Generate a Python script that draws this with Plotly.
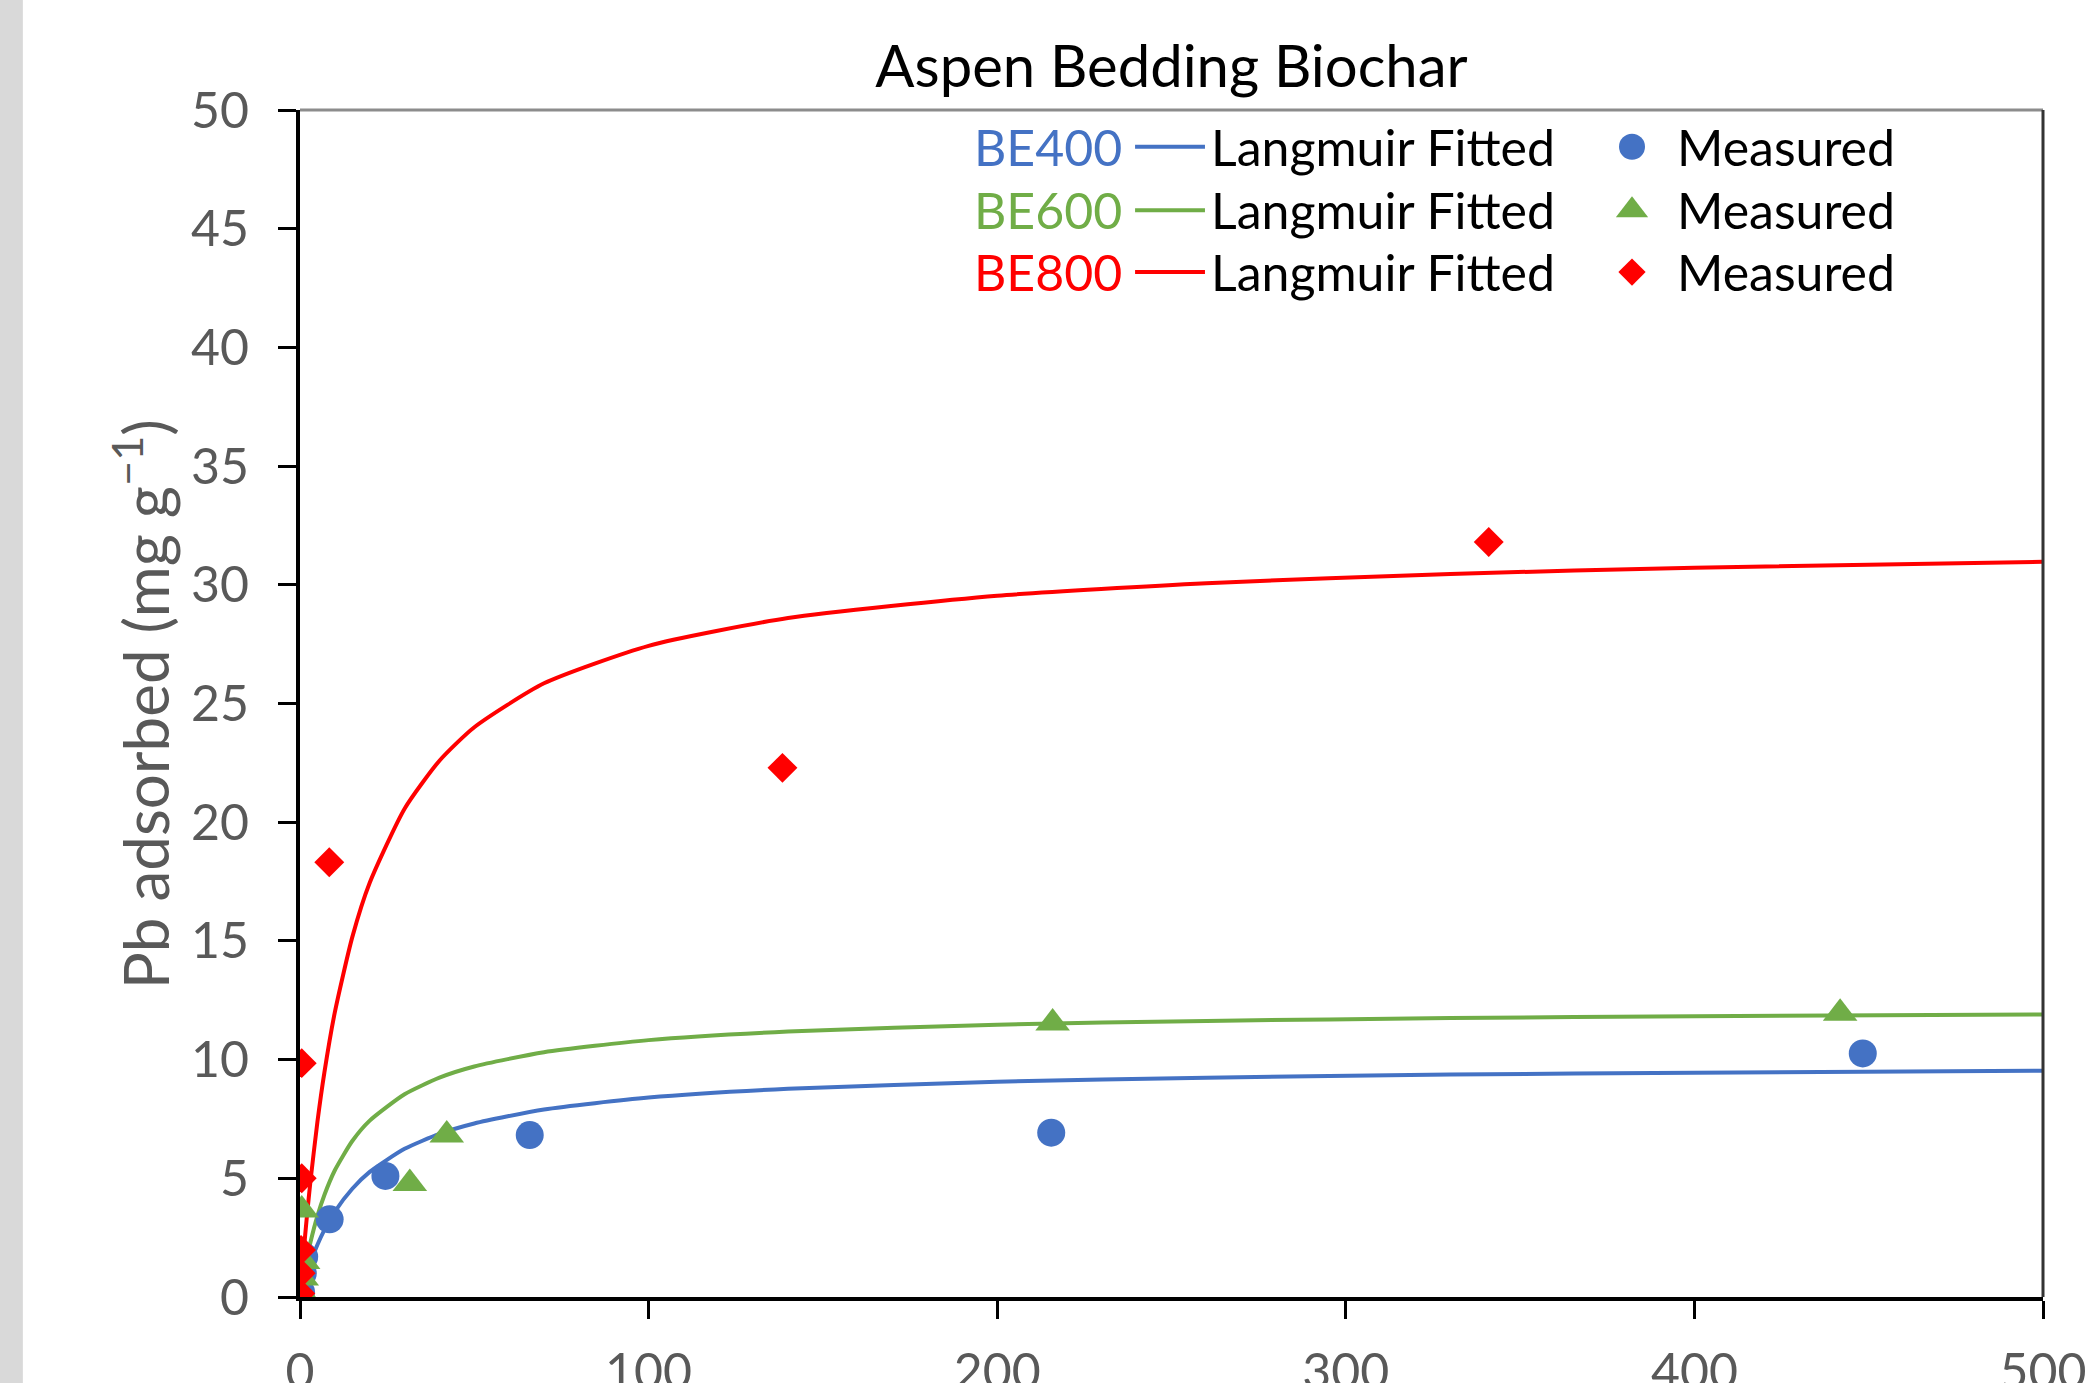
import plotly.graph_objects as go

# ---------------- data ----------------
fit_x = [0, 1, 2, 3, 5, 7, 10, 15, 20, 30, 40, 50, 70, 100, 140, 200, 260, 330, 400, 500]
fit_be400 = [0, 0.54, 1.02, 1.45, 2.20, 2.83, 3.60, 4.56, 5.27, 6.24, 6.87, 7.31, 7.90, 8.40, 8.77, 9.07, 9.24, 9.37, 9.45, 9.53]
fit_be600 = [0, 0.88, 1.64, 2.31, 3.42, 4.30, 5.34, 6.57, 7.43, 8.54, 9.24, 9.71, 10.31, 10.82, 11.18, 11.47, 11.63, 11.75, 11.83, 11.90]
fit_be800 = [0, 1.81, 3.43, 4.88, 7.38, 9.46, 12.00, 15.16, 17.45, 20.57, 22.59, 24.00, 25.85, 27.43, 28.60, 29.54, 30.07, 30.46, 30.72, 30.97]

meas_be400_x = [0.3, 0.8, 1.2, 8.5, 24.5, 65.9, 215.5, 448.3]
meas_be400_y = [0.2, 1.0, 1.7, 3.27, 5.10, 6.82, 6.92, 10.26]
meas_be600_x = [0.2, 0.5, 0.9, 0.5, 31.5, 42.1, 215.9, 441.8]
meas_be600_y = [0.2, 0.8, 1.5, 3.66, 4.78, 6.82, 11.54, 11.95]
meas_be800_x = [0.1, 0.2, 0.3, 0.5, 0.5, 8.4, 138.4, 341.0]
meas_be800_y = [0.15, 1.0, 1.98, 5.0, 9.85, 18.31, 22.29, 31.8]

series_names = ["BE400", "BE600", "BE800"]
series_colors = ["#4472C4", "#70AD47", "#FF0000"]
series_symbols = ["circle", "triangle-up", "diamond"]
marker_sizes = [28, 30, 23]

x_ticks = [0, 100, 200, 300, 400, 500]
y_ticks = [0, 5, 10, 15, 20, 25, 30, 35, 40, 45, 50]

title_text = "Aspen Bedding Biochar"
y_title = "Pb adsorbed (mg g<sup>\u22121</sup>)"
fit_label = "Langmuir Fitted"
meas_label = "Measured"

FONT = "Lato, 'Liberation Sans', Arial, sans-serif"
TICK_GRAY = "#595959"

fig = go.Figure()

fits = [fit_be400, fit_be600, fit_be800]
meas = [(meas_be400_x, meas_be400_y), (meas_be600_x, meas_be600_y), (meas_be800_x, meas_be800_y)]

for i in range(3):
    fig.add_trace(go.Scatter(
        x=fit_x, y=fits[i], mode="lines",
        line=dict(color=series_colors[i], width=4, shape="spline", smoothing=0.6),
        showlegend=False, hoverinfo="skip"))
for i in range(3):
    mx, my = meas[i]
    fig.add_trace(go.Scatter(
        x=mx, y=my, mode="markers",
        marker=dict(symbol=series_symbols[i], size=marker_sizes[i], color=series_colors[i], line=dict(width=0)),
        showlegend=False, hoverinfo="skip"))

# ---------------- manual legend (overlay axes in 0..1 units) ----------------
row_y = [0.969, 0.9155, 0.8635]
line_x0, line_x1 = 0.4791, 0.5192
marker_x = 0.7642
for i in range(3):
    fig.add_trace(go.Scatter(
        x=[line_x0, line_x1], y=[row_y[i], row_y[i]], mode="lines",
        line=dict(color=series_colors[i], width=4), xaxis="x2", yaxis="y2",
        showlegend=False, hoverinfo="skip"))
    fig.add_trace(go.Scatter(
        x=[marker_x], y=[row_y[i]], mode="markers",
        marker=dict(symbol=series_symbols[i], size=marker_sizes[i] - 2, color=series_colors[i], line=dict(width=0)),
        xaxis="x2", yaxis="y2", showlegend=False, hoverinfo="skip"))

annotations = []
LEG_SIZE = 50
for i in range(3):
    annotations.append(dict(x=0.4725, y=row_y[i], xref="paper", yref="paper", text=series_names[i],
                            xanchor="right", yanchor="middle", showarrow=False,
                            font=dict(family=FONT, size=LEG_SIZE, color=series_colors[i])))
    annotations.append(dict(x=0.5215, y=row_y[i], xref="paper", yref="paper", text=fit_label,
                            xanchor="left", yanchor="middle", showarrow=False,
                            font=dict(family=FONT, size=LEG_SIZE, color="#000000")))
    annotations.append(dict(x=0.789, y=row_y[i], xref="paper", yref="paper", text=meas_label,
                            xanchor="left", yanchor="middle", showarrow=False,
                            font=dict(family=FONT, size=LEG_SIZE, color="#000000")))

annotations.append(dict(x=-0.0915, y=0.499, xref="paper", yref="paper", text=y_title, textangle=-90,
                        xanchor="center", yanchor="middle", showarrow=False,
                        font=dict(family=FONT, size=62, color=TICK_GRAY)))

shapes = [
    # grey strip at the far left of the picture
    dict(type="rect", xref="paper", yref="paper", x0=-0.1722, x1=-0.1590, y0=-0.3, y1=1.3,
         fillcolor="#D9D9D9", line=dict(width=0), layer="below"),
    # top frame line
    dict(type="line", xref="paper", yref="paper", x0=0, x1=1, y0=1, y1=1,
         line=dict(color="#8C8C8C", width=3)),
    # right frame line
    dict(type="line", xref="paper", yref="paper", x0=1, x1=1, y0=0, y1=1,
         line=dict(color="#333333", width=3)),
]

fig.update_layout(
    width=2094, height=1383, autosize=False,
    margin=dict(l=300, r=51, t=110, b=86, pad=0, autoexpand=False),
    paper_bgcolor="white", plot_bgcolor="white",
    font=dict(family=FONT, color=TICK_GRAY),
    title=dict(text=title_text, x=0.5, xref="paper", y=1 - 67 / 1383, yref="container",
               xanchor="center", yanchor="middle",
               font=dict(family=FONT, size=58, color="#000000")),
    xaxis=dict(range=[0, 500], tickvals=x_ticks, showgrid=False, zeroline=False,
               showline=True, linecolor="#000000", linewidth=4, automargin=False,
               ticks="outside", ticklen=18, tickwidth=3, tickcolor="#000000",
               tickfont=dict(family=FONT, size=50, color=TICK_GRAY), ticklabelstandoff=10),
    yaxis=dict(range=[0, 50], tickvals=y_ticks, showgrid=False, zeroline=False,
               showline=True, linecolor="#000000", linewidth=4, automargin=False,
               ticks="outside", ticklen=18, tickwidth=3, tickcolor="#000000",
               tickfont=dict(family=FONT, size=50, color=TICK_GRAY), ticklabelstandoff=19),
    xaxis2=dict(range=[0, 1], overlaying="x", visible=False, anchor="y2"),
    yaxis2=dict(range=[0, 1], overlaying="y", visible=False, anchor="x2"),
    annotations=annotations,
    shapes=shapes,
    showlegend=False,
)

fig.write_html("out.html")
